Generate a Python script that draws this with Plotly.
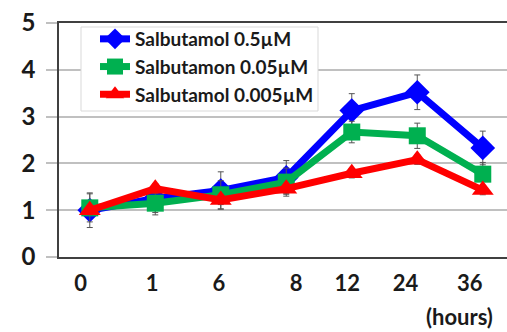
import plotly.graph_objects as go

categories = ["0", "1", "6", "8", "12", "24", "36"]
x_idx = [0, 1, 2, 3, 4, 5, 6]
tick_pos = [-0.14, 0.95, 1.97, 3.15, 3.93, 4.82, 5.8]

blue_vals = [1.0, 1.25, 1.42, 1.7, 3.13, 3.52, 2.33]
blue_err = [0.37, 0.3, 0.4, 0.36, 0.36, 0.37, 0.36]
green_vals = [1.05, 1.15, 1.33, 1.6, 2.67, 2.59, 1.77]
green_err = [0.3, 0.25, 0.3, 0.3, 0.23, 0.27, 0.25]
red_vals = [1.0, 1.46, 1.22, 1.46, 1.79, 2.08, 1.43]
red_err = [0.1, 0.1, 0.1, 0.1, 0.1, 0.1, 0.1]

names = ["Salbutamol 0.5µM", "Salbutamon 0.05µM", "Salbutamol 0.005µM"]
colors = ["#0000FF", "#00B050", "#FF0000"]
symbols = ["diamond", "square", "triangle-up"]
sizes = [19, 17, 19]

fig = go.Figure()
for vals, err, name, c, s, sz in zip([blue_vals, green_vals, red_vals],
                                     [blue_err, green_err, red_err],
                                     names, colors, symbols, sizes):
    fig.add_trace(go.Scatter(
        x=x_idx, y=vals, name=name, mode="lines+markers",
        line=dict(color=c, width=7),
        marker=dict(color=c, symbol=s, size=sz),
        error_y=dict(type="data", array=err, visible=True,
                     color="#555555", thickness=1, width=3),
    ))

# legend frame (white box with light border)
fig.add_shape(type="rect", xref="paper", yref="paper",
              x0=(81 - 59) / 448, x1=(318 - 59) / 448,
              y0=(257 - 111) / 234, y1=(257 - 27) / 234,
              line=dict(color="#d9d9d9", width=1), fillcolor="white", layer="above")

fig.update_layout(
    width=507, height=332,
    margin=dict(l=59, r=0, t=23, b=75, autoexpand=False),
    plot_bgcolor="white", paper_bgcolor="white",
    font=dict(family="Lato, Open Sans, sans-serif", color="#1a1a1a"),
    showlegend=True,
    legend=dict(x=(95 - 59) / 448, y=(257 - 20) / 234, xanchor="left", yanchor="top",
                bgcolor="rgba(0,0,0,0)", borderwidth=0,
                font=dict(size=19, family="Lato", color="#1a1a1a", weight="bold"),
                itemwidth=30, tracegroupgap=0),
    xaxis=dict(range=[-0.47, 6.37], tickmode="array", tickvals=tick_pos,
               ticktext=categories, showgrid=False, zeroline=False,
               showline=True, linecolor="#404040", linewidth=1.5, mirror=True,
               ticks="", automargin=False,
               tickfont=dict(size=22, family="Lato", weight="bold", color="#1a1a1a"),
               ticklabelstandoff=6),
    yaxis=dict(range=[0, 5], tickvals=[0, 1, 2, 3, 4, 5], showgrid=True,
               gridcolor="#c0c0c0", gridwidth=1.5, zeroline=False,
               showline=True, linecolor="#404040", linewidth=1.5,
               ticks="outside", ticklen=11, tickcolor="#c0c0c0", tickwidth=1.5,
               automargin=False,
               tickfont=dict(size=24, family="Lato", weight="bold", color="#1a1a1a"),
               ticklabelstandoff=6),
    annotations=[dict(text="(hours)", x=5.65, y=-0.255, xref="x", yref="paper",
                      showarrow=False, xanchor="center", yanchor="middle",
                      font=dict(size=22, family="Lato", weight="bold", color="#1a1a1a"))],
)

fig.write_html("out.html", config={"displayModeBar": False},
               post_script="document.body.style.margin='0';")
